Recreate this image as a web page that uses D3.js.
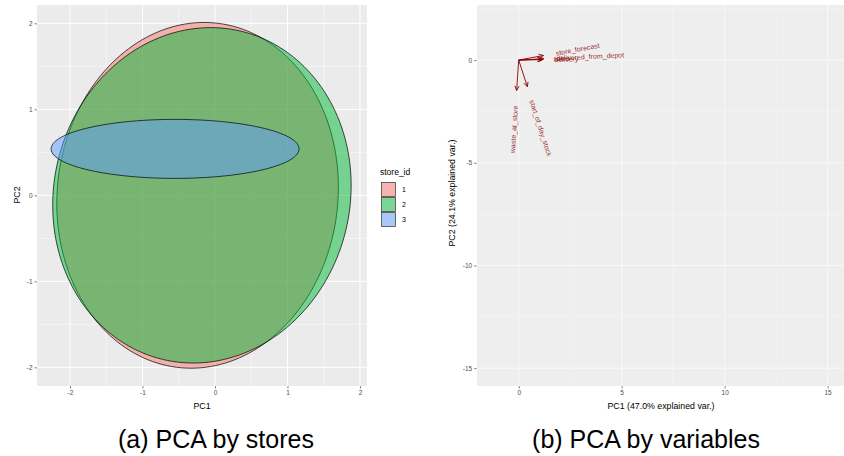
<!DOCTYPE html>
<html>
<head>
<meta charset="utf-8">
<script src="https://cdn.jsdelivr.net/npm/d3@7"></script>
<style>
  body { margin: 0; background: #fff; }
  text { font-family: "Liberation Sans", Arial, sans-serif; }
  .tick text { fill: #4d4d4d; font-size: 6.5px; }
  .tick line { stroke: #333; stroke-width: 0.6; }
</style>
</head>
<body>
<div id="chart"></div>
<script>
// (a) ellipses by store
var storeIds = ["1", "2", "3"];
var storeColors = ["#F8766D", "#00BA38", "#619CFF"];
var ellCx = [-0.24, -0.18, -0.55];
var ellCy = [0.0, 0.0, 0.54];
var ellRx = [1.94, 2.055, 1.71];
var ellRy = [2.01, 1.95, 0.343];
var ellShear = [0.09, 0.12, 0.0];
var pcaTicks = [-2, -1, 0, 1, 2];

// (b) variable loadings
var varNames = ["store_forecast", "delivered_from_depot", "delivery", "sales", "waste_at_store", "start_of_day_stock"];
var varPC1 = [1.2, 1.22, 1.15, 1.12, -0.1, 0.42];
var varPC2 = [0.22, 0.06, 0.02, 0.04, -1.48, -1.3];
var varXTicks = [0, 5, 10, 15];
var varYTicks = [0, -5, -10, -15];

var svg = d3.select("#chart").append("svg")
  .attr("width", 844)
  .attr("height", 456);

svg.append("rect").attr("width", 844).attr("height", 456).attr("fill", "#fff");

var fmt = d => String(d);

function minors(ticks) {
  var out = [];
  var step = ticks[1] - ticks[0];
  out.push(ticks[0] - step / 2);
  ticks.forEach(function(t) { out.push(t + step / 2); });
  return out;
}

function panel(x, y, xt, yt, bg, gridCol, id) {
  var x0 = x.range()[0], x1 = x.range()[1];
  var y0 = y.range()[0], y1 = y.range()[1];
  svg.append("clipPath").attr("id", id)
    .append("rect").attr("x", x0).attr("y", y1).attr("width", x1 - x0).attr("height", y0 - y1);
  var g = svg.append("g").attr("clip-path", "url(#" + id + ")");
  g.append("rect").attr("x", x0).attr("y", y1).attr("width", x1 - x0).attr("height", y0 - y1).attr("fill", bg);
  g.selectAll(".vmin").data(minors(xt)).enter().append("line")
    .attr("x1", d => x(d)).attr("x2", d => x(d)).attr("y1", y1).attr("y2", y0)
    .attr("stroke", gridCol).attr("stroke-width", 0.5);
  g.selectAll(".hmin").data(minors(yt)).enter().append("line")
    .attr("y1", d => y(d)).attr("y2", d => y(d)).attr("x1", x0).attr("x2", x1)
    .attr("stroke", gridCol).attr("stroke-width", 0.5);
  g.selectAll(".vmaj").data(xt).enter().append("line")
    .attr("x1", d => x(d)).attr("x2", d => x(d)).attr("y1", y1).attr("y2", y0)
    .attr("stroke", gridCol).attr("stroke-width", 1);
  g.selectAll(".hmaj").data(yt).enter().append("line")
    .attr("y1", d => y(d)).attr("y2", d => y(d)).attr("x1", x0).attr("x2", x1)
    .attr("stroke", gridCol).attr("stroke-width", 1);

  svg.append("g")
    .attr("transform", "translate(0," + y0 + ")")
    .call(d3.axisBottom(x).tickValues(xt).tickFormat(fmt).tickSize(2.5).tickPadding(2))
    .call(a => a.select(".domain").remove());
  svg.append("g")
    .attr("transform", "translate(" + x0 + ",0)")
    .call(d3.axisLeft(y).tickValues(yt).tickFormat(fmt).tickSize(2.5).tickPadding(2))
    .call(a => a.select(".domain").remove());
  return g;
}

// ---------- (a) PCA by stores ----------
var xA = d3.scaleLinear().domain([-2.455, 2.097]).range([37, 367]);
var yA = d3.scaleLinear().domain([-2.217, 2.213]).range([386, 5]);
var gA = panel(xA, yA, pcaTicks, pcaTicks, "#ebebeb", "#ffffff", "clipA");

var line = d3.line().curve(d3.curveLinearClosed);
storeIds.forEach(function(s, i) {
  var pts = d3.range(0, 360, 2).map(function(deg) {
    var t = deg * Math.PI / 180;
    var px = ellCx[i] + ellRx[i] * Math.cos(t) + ellShear[i] * Math.sin(t);
    var py = ellCy[i] + ellRy[i] * Math.sin(t);
    return [xA(px), yA(py)];
  });
  gA.append("path")
    .attr("d", line(pts))
    .attr("fill", storeColors[i])
    .attr("fill-opacity", 0.5)
    .attr("stroke", "#000")
    .attr("stroke-width", 0.7);
});

svg.append("text").attr("x", 202).attr("y", 409).attr("text-anchor", "middle")
  .attr("font-size", 8.8).text("PC1");
svg.append("text").attr("transform", "translate(20,195) rotate(-90)").attr("text-anchor", "middle")
  .attr("font-size", 8.8).text("PC2");

// legend
var leg = svg.append("g").attr("transform", "translate(381,0)");
leg.append("text").attr("x", -1).attr("y", 175).attr("font-size", 8.5).text("store_id");
storeIds.forEach(function(s, i) {
  leg.append("rect").attr("x", 0).attr("y", 182 + i * 15).attr("width", 15).attr("height", 15)
    .attr("fill", "#f2f2f2");
  leg.append("rect").attr("x", 0.5).attr("y", 182.5 + i * 15).attr("width", 14).attr("height", 14)
    .attr("fill", storeColors[i]).attr("fill-opacity", 0.5)
    .attr("stroke", "#333").attr("stroke-width", 0.7);
  leg.append("text").attr("x", 21).attr("y", 192 + i * 15).attr("font-size", 7).text(s);
});

// ---------- (b) PCA by variables ----------
var xB = d3.scaleLinear().domain([-2.04, 15.82]).range([476.7, 844.5]);
var yB = d3.scaleLinear().domain([-15.87, 2.68]).range([386, 5]);
var gB = panel(xB, yB, varXTicks, varYTicks, "#eeeeee", "#f9f9f9", "clipB");

var arrowCol = "#8b0000";
varNames.forEach(function(n, i) {
  var x0 = xB(0), y0 = yB(0);
  var x1 = xB(varPC1[i]), y1 = yB(varPC2[i]);
  gB.append("line").attr("x1", x0).attr("y1", y0).attr("x2", x1).attr("y2", y1)
    .attr("stroke", arrowCol).attr("stroke-width", 0.9);
  var ang = Math.atan2(y1 - y0, x1 - x0);
  var hl = 5, ha = 0.45;
  var p1 = [x1 - hl * Math.cos(ang - ha), y1 - hl * Math.sin(ang - ha)];
  var p2 = [x1 - hl * Math.cos(ang + ha), y1 - hl * Math.sin(ang + ha)];
  gB.append("path").attr("d", "M" + p1 + "L" + [x1, y1] + "L" + p2)
    .attr("fill", "none").attr("stroke", arrowCol).attr("stroke-width", 0.9);

  var lx = xB(varPC1[i] * 1.5), ly = yB(varPC2[i] * 1.5);
  var deg = Math.atan(varPC2[i] / varPC1[i]) * 180 / Math.PI;
  gB.append("text")
    .attr("transform", "translate(" + lx + "," + ly + ") rotate(" + (-deg) + ")")
    .attr("text-anchor", varPC1[i] > 0 ? "start" : "end")
    .attr("dy", "0.35em")
    .attr("font-size", 7)
    .attr("fill", arrowCol)
    .attr("fill-opacity", 0.85)
    .text(n);
});

svg.append("text").attr("x", 661).attr("y", 409).attr("text-anchor", "middle")
  .attr("font-size", 8.8).text("PC1 (47.0% explained var.)");
svg.append("text").attr("transform", "translate(455,193) rotate(-90)").attr("text-anchor", "middle")
  .attr("font-size", 8.8).text("PC2 (24.1% explained var.)");

// captions
svg.append("text").attr("x", 216).attr("y", 448).attr("text-anchor", "middle")
  .attr("font-size", 25).text("(a) PCA by stores");
svg.append("text").attr("x", 646).attr("y", 448).attr("text-anchor", "middle")
  .attr("font-size", 25).text("(b) PCA by variables");
</script>
</body>
</html>
